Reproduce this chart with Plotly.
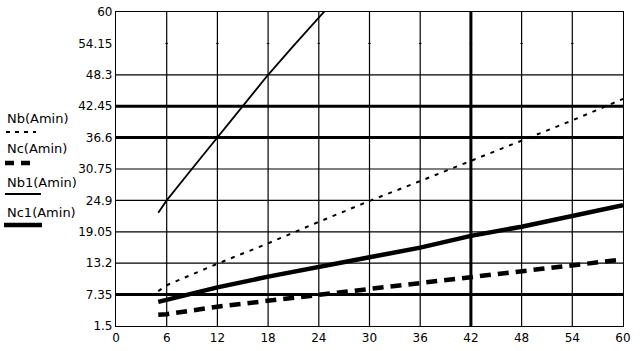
import plotly.graph_objects as go

# ---- data ----
A = [5, 6, 12, 18, 24, 30, 36, 42, 48, 54, 60]
Nb = [8.0, 9.1, 13.1, 16.9, 20.9, 24.8, 28.5, 32.3, 36.1, 39.8, 43.8]
Nc = [3.6, 3.7, 5.1, 6.2, 7.3, 8.4, 9.5, 10.7, 11.8, 12.9, 13.9]
Nc1 = [6.0, 6.4, 8.7, 10.7, 12.6, 14.3, 16.1, 18.3, 20.0, 22.0, 24.0]
A_b1 = [5, 6, 9, 12, 15, 18, 21, 24, 25]
Nb1 = [22.6, 24.9, 30.8, 36.6, 42.5, 48.3, 53.7, 58.9, 60.7]

x_ticks = [0, 6, 12, 18, 24, 30, 36, 42, 48, 54, 60]
y_ticks = [1.5, 7.35, 13.2, 19.05, 24.9, 30.75, 36.6, 42.45, 48.3, 54.15, 60]
y_labels = ["1.5", "7.35", "13.2", "19.05", "24.9", "30.75", "36.6", "42.45", "48.3", "54.15", "60"]
x_labels = [str(v) for v in x_ticks]
y_thick = [7.35, 36.6, 42.45]
y_nogrid = [54.15]
x_thick = [42]

legend_names = ["Nb(Amin)", "Nc(Amin)", "Nb1(Amin)", "Nc1(Amin)"]

W, H = 644, 351
L, R, T, B = 116, 21, 12, 25
PW, PH = W - L - R, H - T - B

FONT = "DejaVu Sans, Liberation Sans, Arial, sans-serif"

fig = go.Figure()
fig.add_trace(go.Scatter(x=A_b1, y=Nb1, mode="lines", line=dict(color="black", width=1.8)))
fig.add_trace(go.Scatter(x=A, y=Nb, mode="lines", line=dict(color="black", width=2, dash="4px,6px")))
fig.add_trace(go.Scatter(x=A, y=Nc1, mode="lines", line=dict(color="black", width=4.5)))
fig.add_trace(go.Scatter(x=A, y=Nc, mode="lines", line=dict(color="black", width=4.5, dash="11px,7px")))

shapes = []
for v in y_ticks[1:-1]:
    if v in y_nogrid:
        continue
    shapes.append(dict(type="line", xref="x", yref="y", x0=0, x1=60, y0=v, y1=v, layer="below",
                       line=dict(color="black", width=3 if v in y_thick else 1.2)))
for v in x_ticks[1:-1]:
    shapes.append(dict(type="line", xref="x", yref="y", x0=v, x1=v, y0=1.5, y1=60, layer="below",
                       line=dict(color="black", width=3 if v in x_thick else 1.2)))
for v in y_nogrid:
    for xv in x_ticks[1:-1]:
        shapes.append(dict(type="line", xref="x", yref="y", x0=xv - 0.15, x1=xv + 0.15, y0=v, y1=v,
                           layer="below", line=dict(color="black", width=1)))


def px(xp):
    return (xp - L) / PW


def py(yp):
    return (H - B - yp) / PH


annotations = []
leg_text_y = [118, 148, 182, 212]
leg_line_y = [132, 163, 194, 225]
leg_line_x = [(6, 36), (5, 34), (5, 41), (4, 42)]
leg_styles = [dict(width=2, dash="4px,5px"), dict(width=4.5, dash="9px,7px"),
              dict(width=1.8), dict(width=4.5)]
for name, ty, ly, (lx0, lx1), st in zip(legend_names, leg_text_y, leg_line_y, leg_line_x, leg_styles):
    annotations.append(dict(text=name, xref="paper", yref="paper", x=px(5), y=py(ty),
                            xanchor="left", yanchor="middle", showarrow=False,
                            font=dict(family=FONT, size=13, color="black")))
    shapes.append(dict(type="line", xref="paper", yref="paper", x0=px(lx0), x1=px(lx1),
                       y0=py(ly), y1=py(ly), line=dict(color="black", **st)))

fig.update_layout(
    width=W, height=H,
    margin=dict(l=L, r=R, t=T, b=B, pad=0, autoexpand=False),
    paper_bgcolor="white", plot_bgcolor="white",
    showlegend=False,
    shapes=shapes, annotations=annotations,
    font=dict(family=FONT, size=12, color="black"),
)
fig.update_xaxes(range=[0, 60], tickvals=x_ticks, ticktext=x_labels, showgrid=False, zeroline=False,
                 showline=True, linecolor="black", linewidth=1.2, mirror=True, ticks="", ticklen=0,
                 automargin=False, tickfont=dict(family=FONT, size=12, color="black"))
fig.update_yaxes(range=[1.5, 60], tickvals=y_ticks, ticktext=y_labels, showgrid=False, zeroline=False,
                 showline=True, linecolor="black", linewidth=1.2, mirror=True, ticks="", ticklen=0,
                 automargin=False, tickfont=dict(family=FONT, size=12, color="black"))

js = "document.body.style.margin='0';"
fig.write_html("out.html", post_script=js, config={"displayModeBar": False})
